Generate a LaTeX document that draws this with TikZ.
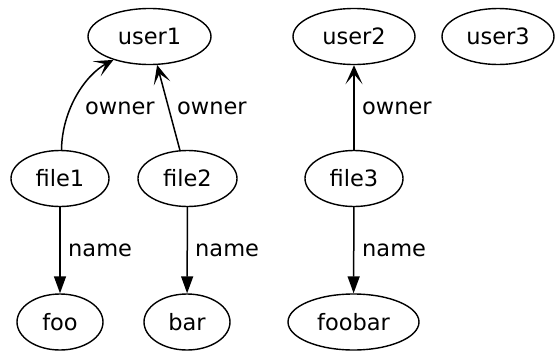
\documentclass[tikz,border=0pt]{standalone}
\usepackage{fontspec}
\setmainfont{DejaVu Sans}
\usetikzlibrary{shapes.geometric,arrows.meta}

\tikzset{
  ent/.style={draw, ellipse, line width=1.4pt, inner sep=0pt,
              minimum height=56pt, font=\fontsize{22.5}{25}\selectfont},
  lbl/.style={anchor=west, inner sep=0pt, font=\fontsize{22.5}{25}\selectfont},
  ownerlink/.style={line width=1.5pt, -{Stealth[length=19pt, width=17pt, inset=10pt]}},
  namelink/.style={line width=1.5pt, -{Triangle[length=17pt, width=12pt]}}
}

\begin{document}
\begin{tikzpicture}[x=1pt, y=-1pt]
  \useasboundingbox (0,0) rectangle (555,351);

  % users
  \node[ent, minimum width=123pt] (user1) at (149.5,36.5) {user1};
  \node[ent, minimum width=122pt] (user2) at (354,36.5) {user2};
  \node[ent, minimum width=112pt] (user3) at (498,36.5) {user3};

  % files
  \node[ent, minimum width=98pt] (file1) at (60,178.5) {file1};
  \node[ent, minimum width=99pt] (file2) at (187.5,178.5) {file2};
  \node[ent, minimum width=98pt] (file3) at (354,178.5) {file3};

  % names
  \node[ent, minimum width=86pt] (foo) at (60,322) {foo};
  \node[ent, minimum width=86pt] (bar) at (187,322) {bar};
  \node[ent, minimum width=131pt] (foobar) at (353.5,322) {foobar};

  % owner relations
  \draw[ownerlink] (file1.87) .. controls (62,110) and (85,75) .. (user1.213);
  \draw[ownerlink] (file2) -- (user1);
  \draw[ownerlink] (file3) -- (user2);

  % name relations
  \draw[namelink] (file1) -- (foo);
  \draw[namelink] (file2) -- (bar);
  \draw[namelink] (file3) -- (foobar);

  % edge labels
  \node[lbl] (o1) at (85,108) {owner};
  \node[lbl] (o2) at (177,108) {owner};
  \node[lbl] (o3) at (362,108) {owner};
  \node[lbl] (n1) at (68,250) {name};
  \node[lbl] (n2) at (195,250) {name};
  \node[lbl] (n3) at (362,250) {name};
\end{tikzpicture}
\end{document}
